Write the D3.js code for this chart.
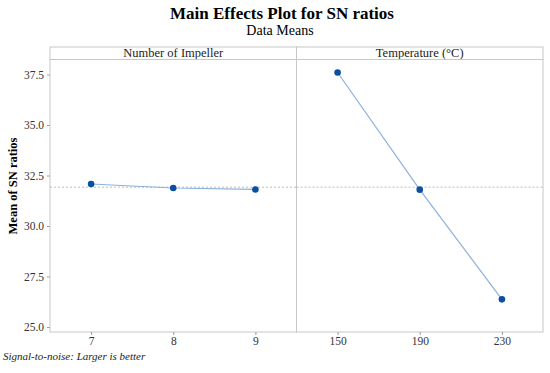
<!DOCTYPE html>
<head>
<meta charset="utf-8">
<style>
  body { margin:0; background:#fff; }
  svg { display:block; font-family:"Liberation Serif","Times New Roman",serif; }
  .tick text { fill:#333; font-size:11.5px; font-family:"Liberation Serif","Times New Roman",serif; }
  .tick line { stroke:#999; }
</style>
<script src="https://d3js.org/d3.v7.min.js"></script>
</head>
<body>
<script>

var width = 550;
var height = 373;

// chart data
var panelTitles = ["Number of Impeller", "Temperature (\u00B0C)"];
var impellerLevels = ["7", "8", "9"];
var impellerMeans = [32.08, 31.88, 31.81];
var tempLevels = ["150", "190", "230"];
var tempMeans = [37.6, 31.8, 26.37];
var yTicks = [25.0, 27.5, 30.0, 32.5, 35.0, 37.5];

var panels = [
  {title: panelTitles[0], levels: impellerLevels, values: impellerMeans},
  {title: panelTitles[1], levels: tempLevels, values: tempMeans}
];

var grandMean = d3.mean(impellerMeans.concat(tempMeans));

var plotL = 50, plotR = 543, plotT = 47, headH = 12.5, plotB = 332;
var panelW = (plotR - plotL) / panels.length;

var y = d3.scaleLinear()
    .domain([25, 37.5])
    .range([327, 74.5]);

var svg = d3.select("body").append("svg")
    .attr("width", width)
    .attr("height", height);

// titles
svg.append("text")
    .attr("x", 282).attr("y", 19)
    .attr("text-anchor", "middle")
    .style("font-size", "17px").style("font-weight", "bold")
    .text("Main Effects Plot for SN ratios");
svg.append("text")
    .attr("x", 280).attr("y", 35)
    .attr("text-anchor", "middle")
    .style("font-size", "14px")
    .text("Data Means");

svg.append("text")
    .attr("transform", "translate(17," + 186 + ") rotate(-90)")
    .attr("text-anchor", "middle")
    .style("font-size", "12.5px").style("font-weight", "bold")
    .text("Mean of SN ratios");

svg.append("text")
    .attr("x", 3).attr("y", 360)
    .style("font-size", "11px").style("font-style", "italic")
    .attr("fill", "#222")
    .text("Signal-to-noise: Larger is better");

// y axis
var yAxis = svg.append("g")
    .attr("transform", "translate(" + plotL + ",0)")
    .call(d3.axisLeft(y).tickValues(yTicks).tickFormat(d3.format(".1f")).tickSize(3).tickPadding(3));
yAxis.select(".domain").remove();

var line = d3.line();

panels.forEach(function(p, i) {
  var x0 = plotL + i * panelW;
  var x = d3.scalePoint()
      .domain(p.levels)
      .range([x0, x0 + panelW])
      .padding(0.5);

  var g = svg.append("g");

  // header strip
  g.append("rect")
      .attr("x", x0).attr("y", plotT)
      .attr("width", panelW).attr("height", headH)
      .attr("fill", "#fff").attr("stroke", "#c8c8c8");
  g.append("text")
      .attr("x", x0 + panelW / 2).attr("y", plotT + headH - 2.5)
      .attr("text-anchor", "middle")
      .style("font-size", "12.5px")
      .attr("fill", "#222")
      .text(p.title);

  // panel frame
  g.append("rect")
      .attr("x", x0).attr("y", plotT + headH)
      .attr("width", panelW).attr("height", plotB - plotT - headH)
      .attr("fill", "none").attr("stroke", "#c8c8c8");

  // reference line at grand mean
  g.append("line")
      .attr("x1", x0).attr("x2", x0 + panelW)
      .attr("y1", y(grandMean)).attr("y2", y(grandMean))
      .attr("stroke", "#aaa").attr("stroke-width", 0.8)
      .attr("stroke-dasharray", "2,2");

  var pts = p.levels.map(function(l, k) { return [x(l), y(p.values[k])]; });

  g.append("path")
      .attr("d", line(pts))
      .attr("fill", "none")
      .attr("stroke", "#8cb2da")
      .attr("stroke-width", 1.2);

  g.selectAll("circle")
      .data(pts)
      .enter().append("circle")
      .attr("cx", function(d) { return d[0]; })
      .attr("cy", function(d) { return d[1]; })
      .attr("r", 3.3)
      .attr("fill", "#0b4fa0");

  var xAxis = svg.append("g")
      .attr("transform", "translate(0," + plotB + ")")
      .call(d3.axisBottom(x).tickSize(3).tickPadding(2));
  xAxis.select(".domain").remove();
});

</script>
</body>
